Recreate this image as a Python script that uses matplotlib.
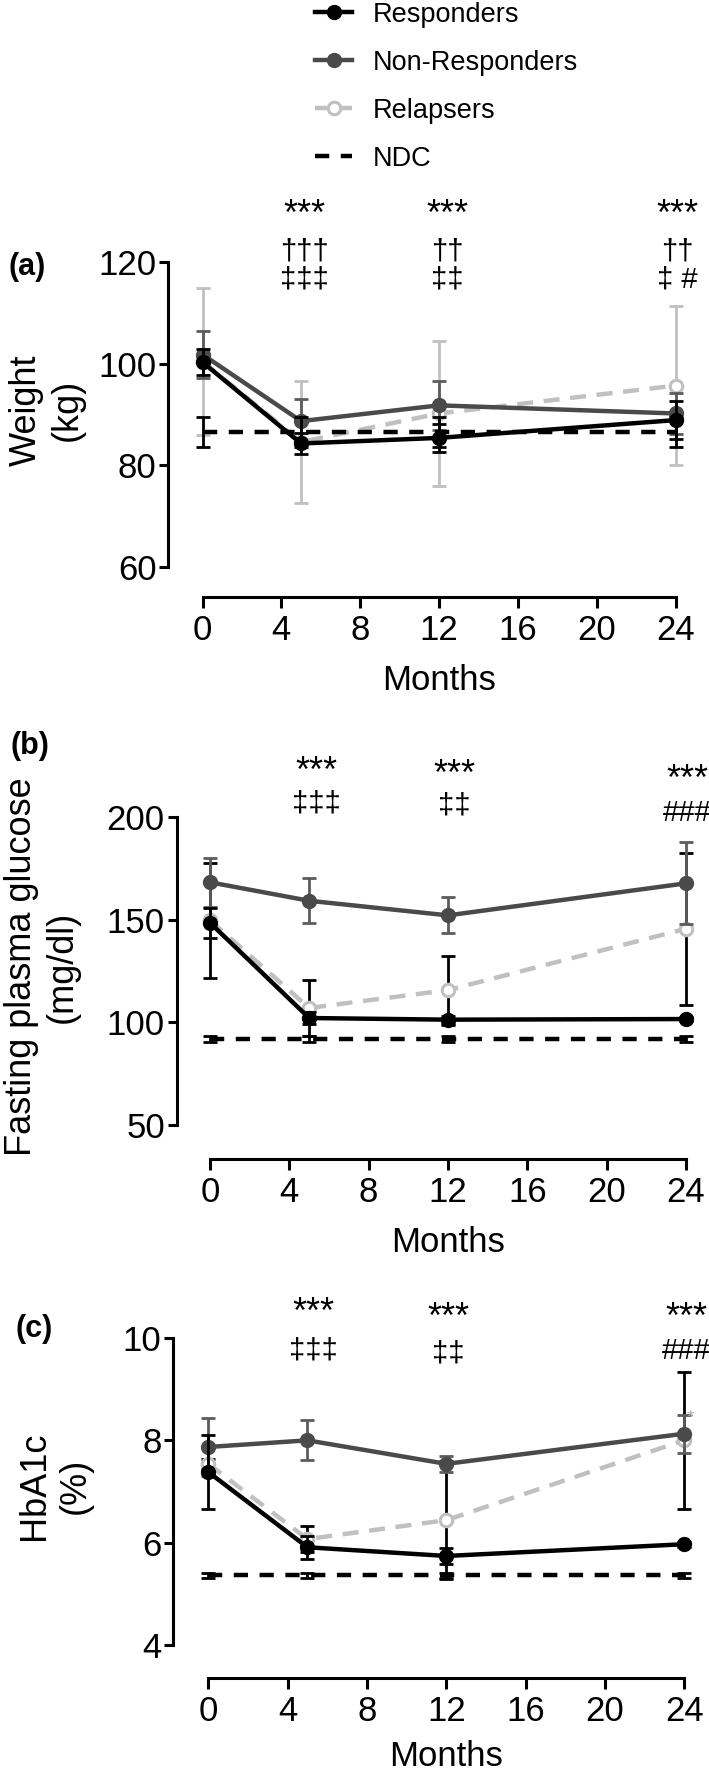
import matplotlib.pyplot as plt

plt.rcParams['font.family'] = ['Liberation Sans', 'DejaVu Sans']

months = [0, 5, 12, 24]
month_ticks = [0, 4, 8, 12, 16, 20, 24]
labels = ['Responders', 'Non-Responders', 'Relapsers', 'NDC']

# (a) weight, kg
weight_resp = [100.3, 84.3, 85.4, 88.9]
weight_resp_err = [2.5, 2.0, 2.8, 3.8]
weight_nonresp = [101.8, 88.7, 91.8, 90.2]
weight_nonresp_err = [4.6, 4.4, 4.8, 4.1]
weight_relap = [100.4, 84.6, 90.2, 95.7]
weight_relap_err = [14.4, 12.0, 14.3, 15.6]
weight_ndc = [86.6, 86.6, 86.6, 86.6]
weight_ndc_err = [3.0, 3.0, 3.0, 3.0]

# (b) fasting plasma glucose, mg/dl
fpg_resp = [148.5, 102.1, 101.3, 101.6]
fpg_resp_err = [7.3, 3.0, 2.0, 1.0]
fpg_nonresp = [168.2, 159.2, 152.1, 167.7]
fpg_nonresp_err = [12.0, 11.0, 8.8, 20.0]
fpg_relap = [149.7, 107.0, 115.7, 145.6]
fpg_relap_err = [28.0, 13.7, 16.8, 37.0]
fpg_ndc = [91.8, 91.8, 91.8, 91.8]
fpg_ndc_err = [1.5, 1.5, 1.5, 1.5]

# (c) HbA1c, %
hba_resp = [7.38, 5.91, 5.74, 5.97]
hba_resp_err = [0.72, 0.22, 0.15, 0.05]
hba_nonresp = [7.87, 8.00, 7.54, 8.13]
hba_nonresp_err = [0.56, 0.39, 0.16, 0.37]
hba_relap = [7.54, 6.07, 6.44, 8.00]
hba_relap_err = [0.10, 0.26, 1.15, 1.34]
hba_ndc = [5.36, 5.36, 5.36, 5.36]
hba_ndc_err = [0.05, 0.05, 0.05, 0.05]

# significance marks per panel, one tuple of text rows per time point
marks_a = [('***', '†††', '‡‡‡'), ('***', '††', '‡‡'), ('***', '††', '‡ #')]
marks_b = [('***', '‡‡‡'), ('***', '‡‡'), ('***', '###')]
marks_c = [('***', '‡‡‡'), ('***', '‡‡'), ('***', '###')]

W, H = 709, 1772
fig = plt.figure(figsize=(W / 100, H / 100), dpi=100)

DARK = '#4a4a4a'
DARK_ERR = '#5c5c5c'
LIGHT = '#c0c0c0'


def px_axes(left, right, top, bottom):
    return fig.add_axes([left / W, 1 - bottom / H, (right - left) / W, (bottom - top) / H])


def draw_panel(ax, resp, resp_err, nonresp, nonresp_err, relap, relap_err, ndc, ndc_err, relap_ecolor):
    kw = dict(fmt='none', capsize=4.8, capthick=2.0, elinewidth=2.0, clip_on=False)
    ax.errorbar(months, relap, yerr=relap_err, ecolor=relap_ecolor, zorder=2, **kw)
    l_relap, = ax.plot(months, relap, color=LIGHT, lw=3.2, ls=(0, (3.6, 2.4)), marker='o', ms=9,
                       mfc='white', mec=LIGHT, mew=2.2, clip_on=False, zorder=2.5)
    ax.errorbar(months, nonresp, yerr=nonresp_err, ecolor=DARK_ERR, zorder=3, **kw)
    l_nonresp, = ax.plot(months, nonresp, color=DARK, lw=3.2, marker='o', ms=10, clip_on=False, zorder=3.5)
    ax.errorbar(months, resp, yerr=resp_err, ecolor='black', zorder=4, **kw)
    l_resp, = ax.plot(months, resp, color='black', lw=3.2, marker='o', ms=10, clip_on=False, zorder=4.5)
    ax.errorbar(months, ndc, yerr=ndc_err, ecolor='black', zorder=5, **kw)
    l_ndc, = ax.plot(months, ndc, color='black', lw=3.2, ls=(0, (3.2, 2.6)), clip_on=False, zorder=5.5)
    return [l_resp, l_nonresp, l_relap, l_ndc]


def style_axes(ax, ylim, yticks, left_off, bottom_off, labelpad=12):
    for side in ['top', 'right']:
        ax.spines[side].set_visible(False)
    ax.spines['left'].set_position(('outward', left_off))
    ax.spines['bottom'].set_position(('outward', bottom_off))
    for side in ['left', 'bottom']:
        ax.spines[side].set_linewidth(2.2)
    ax.patch.set_visible(False)
    ax.set_xlim(0, 24)
    ax.set_xticks(month_ticks)
    ax.set_ylim(*ylim)
    ax.set_yticks(yticks)
    ax.tick_params(axis='both', width=2.2, labelsize=25)
    ax.tick_params(axis='x', length=8, pad=4.5)
    ax.tick_params(axis='y', length=6.5, pad=2)
    ax.set_xlabel('Months', fontsize=25, labelpad=labelpad)


def put_marks(ax, marks, xs, ys, sizes):
    # ys: one baseline per row, or a list of baselines per time point
    for i, (rows, x) in enumerate(zip(marks, xs)):
        for r, txt in enumerate(rows):
            y = ys[r][i] if isinstance(ys[r], list) else ys[r]
            ax.text(x, y, txt, ha='center', va='baseline', fontsize=sizes[r], clip_on=False)


# (a)
ax_a = px_axes(202.5, 675.7, 262, 567)
handles = draw_panel(ax_a, weight_resp, weight_resp_err, weight_nonresp, weight_nonresp_err,
                     weight_relap, weight_relap_err, weight_ndc, weight_ndc_err, LIGHT)
style_axes(ax_a, (60, 120), [60, 80, 100, 120], 24.5, 21.6)
put_marks(ax_a, marks_a, [5.15, 12.4, 24.1], [127.3, 120.5, 115.0], [26, 21, 21])

# (b)
ax_b = px_axes(210, 686, 817, 1125)
draw_panel(ax_b, fpg_resp, fpg_resp_err, fpg_nonresp, fpg_nonresp_err,
           fpg_relap, fpg_relap_err, fpg_ndc, fpg_ndc_err, 'black')
style_axes(ax_b, (50, 200), [50, 100, 150, 200], 24, 24.5)
put_marks(ax_b, marks_b, [5.35, 12.3, 24.05], [[217.0, 215.5, 213.0], [202.5, 201.5, 198.0]], [26, 21])

# (c)
ax_c = px_axes(208.3, 684.3, 1338, 1645)
draw_panel(ax_c, hba_resp, hba_resp_err, hba_nonresp, hba_nonresp_err,
           hba_relap, hba_relap_err, hba_ndc, hba_ndc_err, 'black')
style_axes(ax_c, (4, 10), [4, 6, 8, 10], 25.2, 23.8, labelpad=8)
put_marks(ax_c, marks_c, [5.3, 12.1, 24.1], [[10.29, 10.195, 10.195], [9.6, 9.54, 9.58]], [26, 21])
ax_c.text(24.3, 8.34, '*', color='#b0b0b0', fontsize=14, ha='center', va='baseline')

# y labels and panel letters
ylab = [('Weight\n(kg)', 47, 410), ('Fasting plasma glucose\n(mg/dl)', 42, 967), ('HbA1c\n(%)', 55, 1486)]
for txt, x, y in ylab:
    fig.text(x / W, 1 - y / H, txt, rotation=90, ha='center', va='center', multialignment='center',
             fontsize=26, linespacing=1.2)
for txt, x, y in [('(a)', 27, 267), ('(b)', 30, 746), ('(c)', 34, 1329)]:
    fig.text(x / W, 1 - y / H, txt, ha='center', va='center', fontsize=22, fontweight='bold')

fig.legend(handles, labels, loc='upper left', bbox_to_anchor=(315 / W, 0.999), frameon=False,
           fontsize=19.5, handlelength=1.37, handletextpad=0.78, labelspacing=0.81,
           borderpad=0, borderaxespad=0)

fig.savefig('out.png', dpi=100)
